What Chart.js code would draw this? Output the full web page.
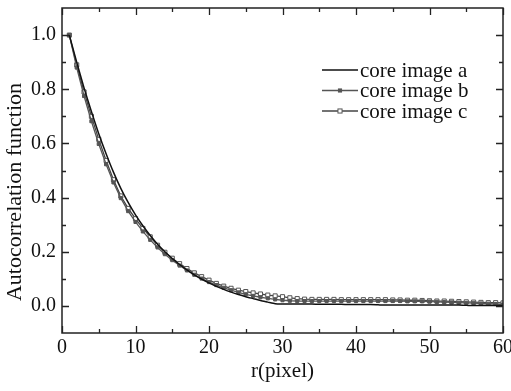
<!DOCTYPE html>
<html>
<head>
<meta charset="utf-8">
<script src="https://cdn.jsdelivr.net/npm/chart.js@4/dist/chart.umd.min.js"></script>
<style>
html,body{margin:0;padding:0;background:#fff;}
#wrap{width:511px;height:391px;}
</style>
</head>
<body>
<div id="wrap"><canvas id="c" width="511" height="391"></canvas></div>
<script>
const rValues = [1,2,3,4,5,6,7,8,9,10,11,12,13,14,15,16,17,18,19,20,21,22,23,24,25,26,27,28,29,30,31,32,33,34,35,36,37,38,39,40,41,42,43,44,45,46,47,48,49,50,51,52,53,54,55,56,57,58,59,60];
const seriesNames = ["core image a","core image b","core image c"];
const coreA = [1.000,0.900,0.805,0.718,0.636,0.562,0.494,0.434,0.382,0.336,0.296,0.260,0.228,0.200,0.175,0.153,0.133,0.115,0.099,0.085,0.072,0.061,0.051,0.042,0.034,0.027,0.020,0.014,0.008,0.007,0.007,0.007,0.007,0.007,0.006,0.006,0.006,0.006,0.005,0.005,0.005,0.005,0.004,0.003,0.003,0.003,0.003,0.003,0.003,0.003,0.003,0.003,0.003,0.003,0.002,0.002,0.002,0.002,0.002,0.002];
const coreB = [1.000,0.880,0.775,0.682,0.598,0.523,0.456,0.398,0.350,0.310,0.275,0.244,0.216,0.191,0.169,0.149,0.131,0.115,0.101,0.088,0.077,0.067,0.058,0.050,0.043,0.037,0.032,0.028,0.024,0.021,0.019,0.018,0.018,0.018,0.018,0.018,0.018,0.018,0.018,0.018,0.018,0.018,0.018,0.018,0.018,0.018,0.017,0.017,0.017,0.016,0.015,0.014,0.013,0.012,0.011,0.010,0.009,0.008,0.007,0.005];
const coreC = [1.000,0.890,0.790,0.700,0.615,0.537,0.466,0.406,0.360,0.322,0.286,0.255,0.224,0.198,0.176,0.156,0.138,0.122,0.108,0.095,0.083,0.073,0.065,0.058,0.053,0.048,0.044,0.040,0.037,0.034,0.030,0.027,0.025,0.024,0.024,0.024,0.024,0.023,0.023,0.023,0.023,0.023,0.023,0.023,0.022,0.022,0.021,0.021,0.020,0.019,0.018,0.018,0.017,0.016,0.015,0.014,0.013,0.012,0.012,0.011];
const xMajorTicks = [0,10,20,30,40,50,60];
const xMinorTicks = [5,15,25,35,45,55];
const yMajorTicks = [0.0,0.2,0.4,0.6,0.8,1.0];
const yMinorTicks = [0.1,0.3,0.5,0.7,0.9];
const xTitle = "r(pixel)";
const yTitle = "Autocorrelation function";

const SERIF = "'Liberation Serif','Times New Roman',serif";

function toXY(vals){ return vals.map((v,i)=>({x:rValues[i], y:v})); }

const framePlugin = {
  id:'frame',
  afterDatasetsDraw(chart){
    const {ctx, chartArea:a, scales:{x, y}} = chart;
    ctx.save();
    ctx.strokeStyle = '#222';
    ctx.lineWidth = 1.5;
    ctx.strokeRect(a.left, a.top, a.right-a.left, a.bottom-a.top);
    ctx.lineWidth = 1.3;
    const tick = (vals, len, isX) => {
      vals.forEach(v=>{
        ctx.beginPath();
        if(isX){
          const px = Math.round(x.getPixelForValue(v))+0.5;
          ctx.moveTo(px, a.bottom); ctx.lineTo(px, a.bottom-len);
          ctx.moveTo(px, a.top); ctx.lineTo(px, a.top+len);
        } else {
          const py = Math.round(y.getPixelForValue(v))+0.5;
          ctx.moveTo(a.left, py); ctx.lineTo(a.left+len, py);
          ctx.moveTo(a.right, py); ctx.lineTo(a.right-len, py);
        }
        ctx.stroke();
      });
    };
    tick(xMajorTicks, 7, true);
    tick(xMinorTicks, 4, true);
    tick(yMajorTicks, 7, false);
    tick(yMinorTicks, 4, false);
    ctx.restore();
  },
  afterDraw(chart){
    const ctx = chart.ctx;
    ctx.save();
    const x0 = 322, x1 = 358, yStart = 70, dy = 20.5;
    chart.data.datasets.forEach((ds,i)=>{
      const yy = yStart + i*dy;
      ctx.strokeStyle = ds.borderColor;
      ctx.lineWidth = ds.borderWidth;
      ctx.beginPath(); ctx.moveTo(x0, yy); ctx.lineTo(x1, yy); ctx.stroke();
      if(ds.pointRadius>0){
        const s = ds.pointRadius*Math.SQRT1_2;
        const cx = (x0+x1)/2;
        ctx.fillStyle = ds.pointBackgroundColor;
        ctx.fillRect(cx-s, yy-s, 2*s, 2*s);
        ctx.lineWidth = ds.pointBorderWidth;
        ctx.strokeStyle = ds.pointBorderColor;
        ctx.strokeRect(cx-s, yy-s, 2*s, 2*s);
      }
      ctx.fillStyle = '#111';
      ctx.font = '21px ' + SERIF;
      ctx.textBaseline = 'middle';
      ctx.textAlign = 'left';
      ctx.fillText(ds.label, x1+2, yy+1);
    });
    // y-axis title
    ctx.translate(15, 192);
    ctx.rotate(-Math.PI/2);
    ctx.font = '22px ' + SERIF;
    ctx.textAlign = 'center';
    ctx.textBaseline = 'middle';
    ctx.fillStyle = '#111';
    ctx.fillText(yTitle, 0, 0);
    ctx.restore();
  }
};

new Chart(document.getElementById('c'), {
  type:'line',
  data:{
    datasets:[
      {label:seriesNames[0], data:toXY(coreA), borderColor:'#111', borderWidth:1.5, pointRadius:0, tension:0.2,
       pointBackgroundColor:'#111', pointBorderColor:'#111', pointBorderWidth:1},
      {label:seriesNames[1], data:toXY(coreB), borderColor:'#555', borderWidth:1.3, pointRadius:2.2, pointStyle:'rect',
       pointBackgroundColor:'#555', pointBorderColor:'#555', pointBorderWidth:1, tension:0},
      {label:seriesNames[2], data:toXY(coreC), borderColor:'#444', borderWidth:1.3, pointRadius:2.9, pointStyle:'rect',
       pointBackgroundColor:'#fff', pointBorderColor:'#555', pointBorderWidth:1, tension:0}
    ]
  },
  options:{
    responsive:false,
    animation:false,
    devicePixelRatio:1,
    layout:{padding:{left:0, right:8, top:8, bottom:0}},
    plugins:{legend:{display:false}, tooltip:{enabled:false}},
    scales:{
      x:{
        type:'linear', min:0, max:60,
        afterBuildTicks(s){ s.ticks = xMajorTicks.map(v=>({value:v})); },
        afterFit(s){ s.height = 58; s.paddingLeft = 0; s.paddingRight = 0; },
        grid:{display:false, drawTicks:false},
        border:{display:false},
        ticks:{color:'#111', font:{family:SERIF, size:20}, padding:3, maxRotation:0, autoSkip:false,
          callback:(v)=>String(v)},
        title:{display:true, text:xTitle, color:'#111', font:{family:SERIF, size:21}, padding:{top:0,bottom:7}}
      },
      y:{
        type:'linear', min:-0.1, max:1.1,
        afterBuildTicks(s){ s.ticks = yMajorTicks.map(v=>({value:v})); },
        afterFit(s){ s.width = 62; s.paddingTop = 0; s.paddingBottom = 0; },
        grid:{display:false, drawTicks:false},
        border:{display:false},
        ticks:{color:'#111', font:{family:SERIF, size:20}, padding:6, autoSkip:false,
          callback:(v)=>Number(v).toFixed(1)},
        title:{display:false, text:yTitle}
      }
    }
  },
  plugins:[framePlugin]
});
</script>
</body>
</html>
